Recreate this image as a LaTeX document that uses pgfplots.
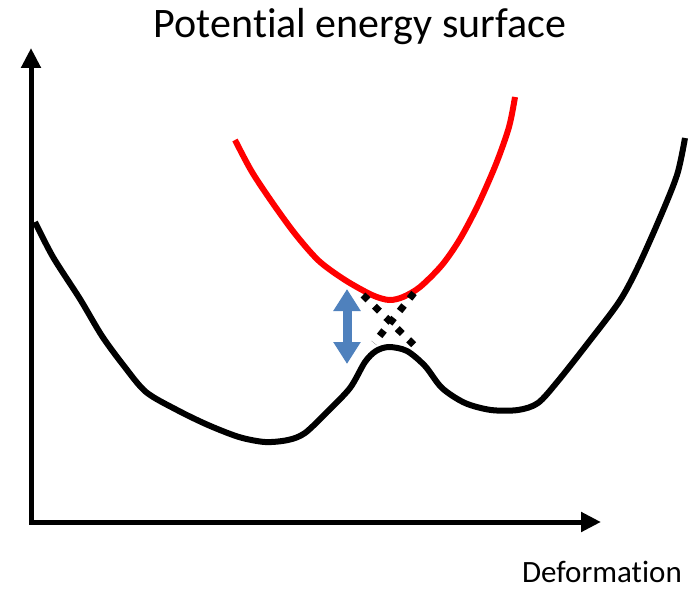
\documentclass[border=0pt]{standalone}
\usepackage{pgfplots}
\pgfplotsset{compat=1.18}
\usepackage{fontspec}
\setmainfont{Carlito}[Ligatures=NoCommon]
\usetikzlibrary{arrows.meta}
\definecolor{arrowblue}{HTML}{4F81BD}
\begin{document}
\begin{tikzpicture}
\begin{axis}[
  width=696pt, height=590pt, scale only axis,
  xmin=0, xmax=696, ymin=0, ymax=590,
  axis lines=none, clip=false,
]
\path (axis cs:0,0) rectangle (axis cs:696,590);
% axes (pixel coords, y = 590 - py)
\addplot[black, line width=5pt, -{Triangle[width=19pt,length=20pt]}] coordinates {(31,66) (31,542)};
\addplot[black, line width=5pt, -{Triangle[width=19pt,length=20pt]}] coordinates {(29,68) (601,68)};
% black curve
\addplot[black, line width=6pt, smooth, tension=0.5] coordinates {
(35,368) (53,333) (80,291) (102,254) (124,224) (146,198) (177,180) (208,165)
(239,153) (265,148) (288,150) (305,157) (327,178) (350,202) (365,228) (376,239)
(389,243) (407,239) (425,224) (442,202) (465,187) (491,180) (518,180) (538,187)
(558,209) (588,247) (619,288) (637,321) (659,370) (677,415) (685,452)};
% red curve
\addplot[red, line width=6pt, smooth, tension=0.5] coordinates {
(235,450) (252,418) (274,385) (296,355) (319,329) (345,310) (372,295) (389,290)
(403,293) (420,303) (442,325) (460,351) (478,385) (496,426) (509,463) (515,493)};
% dotted crossing
\addplot[black, line width=7pt, dash pattern=on 7pt off 9pt] coordinates {(363,295) (416,243)};
\addplot[black, line width=7pt, dash pattern=on 7pt off 9pt] coordinates {(414,297) (374,247)};
% blue double arrow
\addplot[arrowblue, line width=9pt, {Triangle[width=26pt,length=22pt]}-{Triangle[width=26pt,length=22pt]}] coordinates {(347,301) (347,226)};
\node[font=\fontsize{42}{48}\selectfont, anchor=base, inner sep=0pt] at (axis cs:360,552) {Potential energy surface};
\node[font=\fontsize{31}{36}\selectfont, anchor=base, inner sep=0pt] at (axis cs:602,8) {Deformation};
\end{axis}
\end{tikzpicture}
\end{document}
